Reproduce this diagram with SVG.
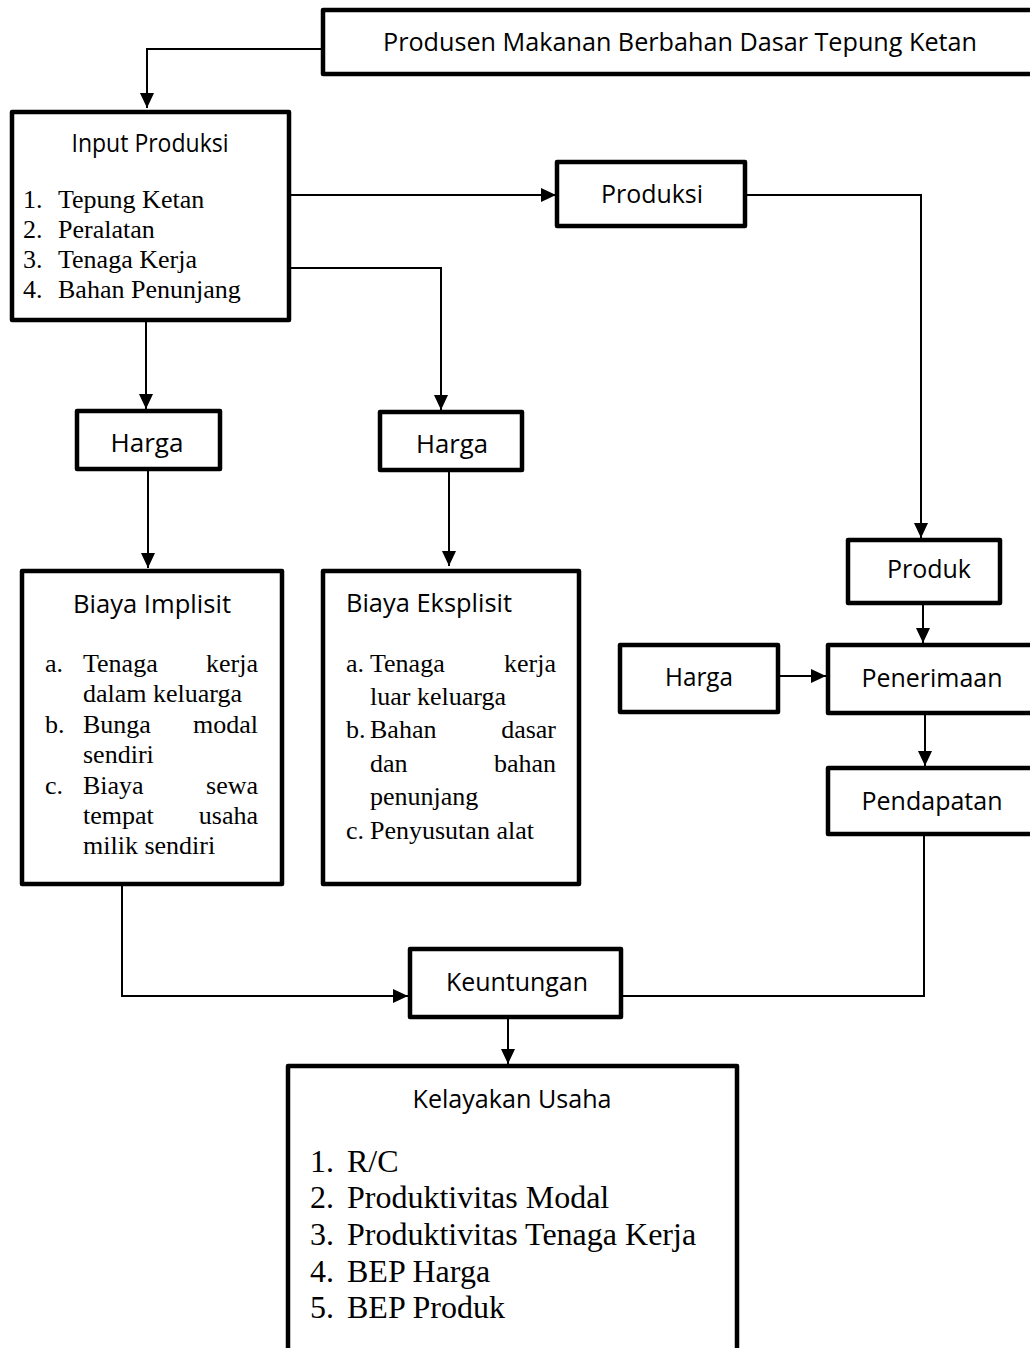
<svg xmlns="http://www.w3.org/2000/svg" width="1030" height="1348" viewBox="0 0 1030 1348">
<style>
.box{fill:#fff;stroke:#000;stroke-width:4.5;stroke-linejoin:round}
.lbl{font-family:"Open Sans","Liberation Sans",sans-serif;font-size:26px;fill:#000}
.c{text-anchor:middle}
.ser{font-family:"Liberation Serif","Times New Roman",serif;font-size:26px;fill:#000}
.big{font-size:32px}
.con{fill:none;stroke:#000;stroke-width:2}
</style>
<defs>
<marker id="ah" markerUnits="userSpaceOnUse" markerWidth="16" markerHeight="16" viewBox="0 0 16 16" refX="15" refY="8" orient="auto">
<path d="M0,1 L15,8 L0,15 Z" fill="#000"/>
</marker>
</defs>
<rect width="1030" height="1348" fill="#fff"/>

<g id="connectors">
<polyline class="con" points="323,49 147,49 147,108" marker-end="url(#ah)"/>
<line class="con" x1="289" y1="195" x2="556" y2="195" marker-end="url(#ah)"/>
<polyline class="con" points="289,268 441,268 441,410" marker-end="url(#ah)"/>
<line class="con" x1="146" y1="320" x2="146" y2="409" marker-end="url(#ah)"/>
<line class="con" x1="148" y1="469" x2="148" y2="568" marker-end="url(#ah)"/>
<line class="con" x1="449" y1="470" x2="449" y2="566" marker-end="url(#ah)"/>
<polyline class="con" points="745,195 921,195 921,538" marker-end="url(#ah)"/>
<line class="con" x1="923" y1="603" x2="923" y2="643" marker-end="url(#ah)"/>
<line class="con" x1="778" y1="676" x2="826" y2="676" marker-end="url(#ah)"/>
<line class="con" x1="925" y1="713" x2="925" y2="766" marker-end="url(#ah)"/>
<polyline class="con" points="924,834 924,996 621,996"/>
<polyline class="con" points="122,884 122,996 408,996" marker-end="url(#ah)"/>
<line class="con" x1="508" y1="1017" x2="508" y2="1064" marker-end="url(#ah)"/>
</g>

<g id="node-produsen">
<rect class="box" x="323" y="10" width="730" height="64"/>
<text class="lbl c" x="680" y="51" textLength="594" lengthAdjust="spacingAndGlyphs">Produsen Makanan Berbahan Dasar Tepung Ketan</text>
</g>

<g id="node-input">
<rect class="box" x="12" y="112" width="277" height="208"/>
<text class="lbl c" x="150" y="152" textLength="157" lengthAdjust="spacingAndGlyphs">Input Produksi</text>
<text class="ser"><tspan x="23" y="208">1.</tspan><tspan x="58" y="208">Tepung Ketan</tspan></text>
<text class="ser"><tspan x="23" y="238">2.</tspan><tspan x="58" y="238">Peralatan</tspan></text>
<text class="ser"><tspan x="23" y="268">3.</tspan><tspan x="58" y="268">Tenaga Kerja</tspan></text>
<text class="ser"><tspan x="23" y="298">4.</tspan><tspan x="58" y="298">Bahan Penunjang</tspan></text>
</g>

<g id="node-produksi">
<rect class="box" x="557" y="162" width="188" height="64"/>
<text class="lbl c" x="652" y="203" textLength="102" lengthAdjust="spacingAndGlyphs">Produksi</text>
</g>

<g id="node-harga1">
<rect class="box" x="77" y="411" width="143" height="58"/>
<text class="lbl c" x="147" y="452" textLength="73" lengthAdjust="spacingAndGlyphs">Harga</text>
</g>

<g id="node-harga2">
<rect class="box" x="380" y="412" width="142" height="58"/>
<text class="lbl c" x="452" y="453" textLength="72" lengthAdjust="spacingAndGlyphs">Harga</text>
</g>

<g id="node-implisit">
<rect class="box" x="22" y="571" width="260" height="313"/>
<text class="lbl c" x="152" y="613" textLength="158" lengthAdjust="spacingAndGlyphs">Biaya Implisit</text>
<text class="ser"><tspan x="45" y="672">a.</tspan><tspan x="83" y="672">Tenaga</tspan><tspan x="258" y="672" text-anchor="end">kerja</tspan></text>
<text class="ser"><tspan x="83" y="702">dalam keluarga</tspan></text>
<text class="ser"><tspan x="45" y="733">b.</tspan><tspan x="83" y="733">Bunga</tspan><tspan x="258" y="733" text-anchor="end">modal</tspan></text>
<text class="ser"><tspan x="83" y="763">sendiri</tspan></text>
<text class="ser"><tspan x="45" y="794">c.</tspan><tspan x="83" y="794">Biaya</tspan><tspan x="258" y="794" text-anchor="end">sewa</tspan></text>
<text class="ser"><tspan x="83" y="824">tempat</tspan><tspan x="258" y="824" text-anchor="end">usaha</tspan></text>
<text class="ser"><tspan x="83" y="854">milik sendiri</tspan></text>
</g>

<g id="node-eksplisit">
<rect class="box" x="323" y="571" width="256" height="313"/>
<text class="lbl" x="346" y="612" textLength="166" lengthAdjust="spacingAndGlyphs">Biaya Eksplisit</text>
<text class="ser"><tspan x="346" y="672">a.</tspan><tspan x="370" y="672">Tenaga</tspan><tspan x="556" y="672" text-anchor="end">kerja</tspan></text>
<text class="ser"><tspan x="370" y="705">luar keluarga</tspan></text>
<text class="ser"><tspan x="346" y="738">b.</tspan><tspan x="370" y="738">Bahan</tspan><tspan x="556" y="738" text-anchor="end">dasar</tspan></text>
<text class="ser"><tspan x="370" y="772">dan</tspan><tspan x="556" y="772" text-anchor="end">bahan</tspan></text>
<text class="ser"><tspan x="370" y="805">penunjang</tspan></text>
<text class="ser"><tspan x="346" y="839">c.</tspan><tspan x="370" y="839">Penyusutan alat</tspan></text>
</g>

<g id="node-produk">
<rect class="box" x="848" y="540" width="152" height="63"/>
<text class="lbl c" x="929" y="578" textLength="84" lengthAdjust="spacingAndGlyphs">Produk</text>
</g>

<g id="node-harga3">
<rect class="box" x="620" y="645" width="158" height="67"/>
<text class="lbl c" x="699" y="686" textLength="68" lengthAdjust="spacingAndGlyphs">Harga</text>
</g>

<g id="node-penerimaan">
<rect class="box" x="828" y="645" width="220" height="68"/>
<text class="lbl c" x="932" y="687" textLength="141" lengthAdjust="spacingAndGlyphs">Penerimaan</text>
</g>

<g id="node-pendapatan">
<rect class="box" x="828" y="768" width="220" height="66"/>
<text class="lbl c" x="932" y="810" textLength="141" lengthAdjust="spacingAndGlyphs">Pendapatan</text>
</g>

<g id="node-keuntungan">
<rect class="box" x="410" y="949" width="211" height="68"/>
<text class="lbl c" x="517" y="991" textLength="142" lengthAdjust="spacingAndGlyphs">Keuntungan</text>
</g>

<g id="node-kelayakan">
<rect class="box" x="288" y="1066" width="449" height="300"/>
<text class="lbl c" x="512" y="1108" textLength="199" lengthAdjust="spacingAndGlyphs">Kelayakan Usaha</text>
<text class="ser big"><tspan x="310" y="1172">1.</tspan><tspan x="347" y="1172">R/C</tspan></text>
<text class="ser big"><tspan x="310" y="1208">2.</tspan><tspan x="347" y="1208">Produktivitas Modal</tspan></text>
<text class="ser big"><tspan x="310" y="1245">3.</tspan><tspan x="347" y="1245">Produktivitas Tenaga Kerja</tspan></text>
<text class="ser big"><tspan x="310" y="1282">4.</tspan><tspan x="347" y="1282">BEP Harga</tspan></text>
<text class="ser big"><tspan x="310" y="1318">5.</tspan><tspan x="347" y="1318">BEP Produk</tspan></text>
</g>
</svg>
